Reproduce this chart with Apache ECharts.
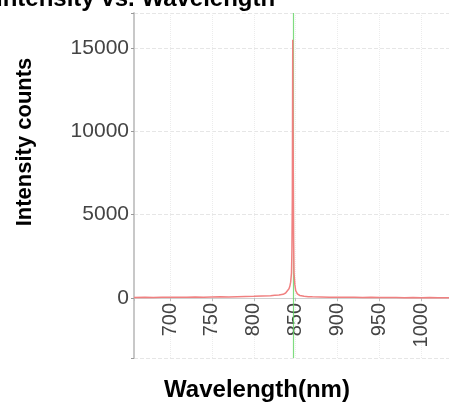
<!DOCTYPE html>
<html>
<head>
<meta charset="utf-8">
<script src="https://cdn.jsdelivr.net/npm/echarts@6/dist/echarts.min.js"></script>
<style>html,body{margin:0;padding:0;background:#fff;}#c{width:449px;height:406px;}</style>
</head>
<body>
<div id="c"></div>
<script>
const chartTitle = 'Intensity vs. Wavelength';
const xName = 'Wavelength(nm)';
const yName = 'Intensity counts';
const wavelengths = [657, 670, 680, 690, 700, 710, 720, 730, 740, 750, 760, 770, 780, 790, 800, 810, 820, 825, 830, 835, 838, 840, 842, 843, 844, 845, 845.5, 846, 846.5, 847, 847.5, 848, 849, 850, 852, 855, 860, 865, 870, 880, 890, 900, 910, 920, 930, 940, 950, 960, 970, 980, 990, 1000, 1010, 1020, 1033];
const intensity = [30, 40, 30, 50, 40, 50, 40, 60, 50, 60, 70, 60, 80, 90, 100, 120, 140, 160, 180, 220, 300, 380, 550, 700, 950, 1500, 2800, 6000, 15500, 9000, 3500, 1500, 800, 450, 250, 150, 100, 80, 70, 60, 50, 50, 40, 40, 30, 40, 30, 30, 30, 20, 30, 20, 30, 20, 20];
const peakLine = 846.7;
const xMin = 657, xMax = 1033, yMin = -3600, yMax = 17100;

const chart = echarts.init(document.getElementById('c'), null, {renderer: 'canvas'});
const font = '"Liberation Sans", Arial, sans-serif';
chart.setOption({
  animation: false,
  backgroundColor: '#fff',
  title: {
    text: chartTitle, left: -9, top: -18,
    textStyle: {fontFamily: font, fontSize: 24, fontWeight: 'bold', color: '#000'}
  },
  grid: {left: 134, right: 0, top: 13, bottom: 48, containLabel: false, outerBoundsMode: 'none'},
  xAxis: {
    type: 'value', min: xMin, max: xMax, splitNumber: 7,
    offset: -60,
    axisLine: {onZero: false, lineStyle: {color: '#d0d0d0', width: 1}},
    axisTick: {show: true, length: 3, lineStyle: {color: '#bbb'}},
    axisLabel: {
      rotate: 90, margin: 5, fontFamily: font, fontSize: 20, color: '#444',
      formatter: v => (v % 50 === 0 ? String(v) : '')
    },
    splitLine: {show: true, lineStyle: {color: '#ececec', type: 'dotted', width: 1}}
  },
  yAxis: {
    type: 'value', min: yMin, max: yMax, splitNumber: 4,
    axisLine: {show: true, lineStyle: {color: '#c8c8c8', width: 2}},
    axisTick: {show: true, length: 3, lineStyle: {color: '#999'}},
    axisLabel: {
      margin: 5, fontFamily: font, fontSize: 21, color: '#444',
      formatter: v => (v % 5000 === 0 && v >= 0 ? String(v) : '')
    },
    splitLine: {show: true, lineStyle: {color: '#e6e6e6', type: 'dashed', width: 1}}
  },
  graphic: [
    {type: 'text', x: 257, y: 390, style: {text: xName, font: 'bold 24px ' + font, fill: '#000', align: 'center', verticalAlign: 'middle'}},
    {type: 'text', x: 25, y: 142, rotation: Math.PI / 2, style: {text: yName, font: 'bold 22px ' + font, fill: '#000', align: 'center', verticalAlign: 'middle'}}
  ],
  series: [{
    type: 'line',
    data: wavelengths.map((w, i) => [w, intensity[i]]),
    showSymbol: false,
    z: 3,
    lineStyle: {color: '#f08080', width: 1.5},
    markLine: {
      silent: true, symbol: ['none', 'none'], label: {show: false},
      z: 2,
      emphasis: {disabled: true},
      lineStyle: {color: '#5fd35f', width: 1.2, type: 'solid', opacity: 0.8},
      data: [{xAxis: peakLine}]
    }
  }]
});
</script>
</body>
</html>
